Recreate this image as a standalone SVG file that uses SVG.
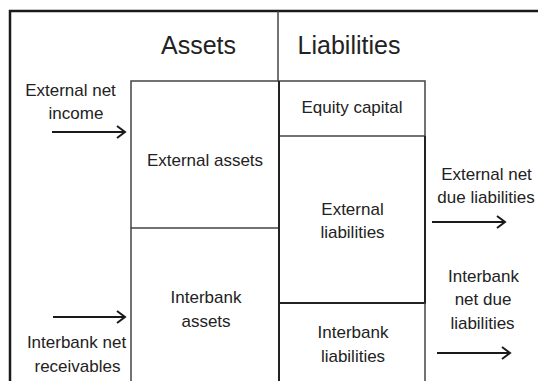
<svg xmlns="http://www.w3.org/2000/svg" width="539" height="381" viewBox="0 0 539 381">
<defs>
<marker id="chev" markerUnits="userSpaceOnUse" markerWidth="12" markerHeight="14" refX="10" refY="7" orient="auto" viewBox="0 0 12 14">
<path d="M2,1 L10,7 L2,13" fill="none" stroke="#1a1a1a" stroke-width="2"/>
</marker>
</defs>
<style>
text{font-family:"Liberation Sans",Arial,sans-serif;fill:#222;text-anchor:middle}
.t{font-size:17px}
.h{font-size:25px}
.thin{stroke:#444;stroke-width:1.5;fill:none}
.dark{stroke:#222;stroke-width:2;fill:none}
.arrow{stroke:#1a1a1a;stroke-width:2;fill:none;marker-end:url(#chev)}
</style>
<rect width="539" height="381" fill="#fff"/>
<g id="frame">
<path d="M10,381 V11 H538" stroke="#1a1a1a" stroke-width="2.5" fill="none"/>
<line x1="278" y1="11" x2="278" y2="81" class="thin" stroke-width="1.2"/>
<text x="198.5" y="54" class="h">Assets</text>
<text x="349" y="54" class="h">Liabilities</text>
</g>
<g id="external-assets">
<path d="M131,228 V81 H278" class="thin"/>
<text x="205" y="166" class="t">External assets</text>
</g>
<g id="interbank-assets">
<path d="M131,381 V228 H278" class="thin"/>
<text x="206" y="303" class="t">Interbank</text>
<text x="206" y="327" class="t">assets</text>
</g>
<g id="equity-capital">
<path d="M278,81 H425 V136 H278" class="thin"/>
<text x="352" y="113" class="t">Equity capital</text>
</g>
<g id="external-liabilities">
<path d="M425,136 V303 H279" class="dark"/>
<text x="352.5" y="215" class="t">External</text>
<text x="352.5" y="238" class="t">liabilities</text>
</g>
<g id="interbank-liabilities">
<path d="M425,303 V381" class="thin"/>
<text x="353" y="338" class="t">Interbank</text>
<text x="353" y="362" class="t">liabilities</text>
</g>
<line x1="279" y1="81" x2="279" y2="381" class="dark"/>
<g id="external-net-income">
<text x="70.5" y="96" class="t">External net</text>
<text x="76" y="119" class="t">income</text>
</g>
<g id="interbank-net-receivables">
<text x="76.5" y="348" class="t">Interbank net</text>
<text x="77.5" y="372" class="t">receivables</text>
</g>
<g id="external-net-due-liabilities">
<text x="486.5" y="180" class="t">External net</text>
<text x="486" y="203" class="t">due liabilities</text>
</g>
<g id="interbank-net-due-liabilities">
<text x="483.5" y="282" class="t">Interbank</text>
<text x="483" y="305" class="t">net due</text>
<text x="482.5" y="329" class="t">liabilities</text>
</g>
<g id="connectors">
<line x1="52" y1="132" x2="125" y2="132" class="arrow"/>
<line x1="53" y1="317" x2="125" y2="317" class="arrow"/>
<line x1="432" y1="222" x2="505" y2="222" class="arrow"/>
<line x1="437" y1="353" x2="510" y2="353" class="arrow"/>
</g>
</svg>
